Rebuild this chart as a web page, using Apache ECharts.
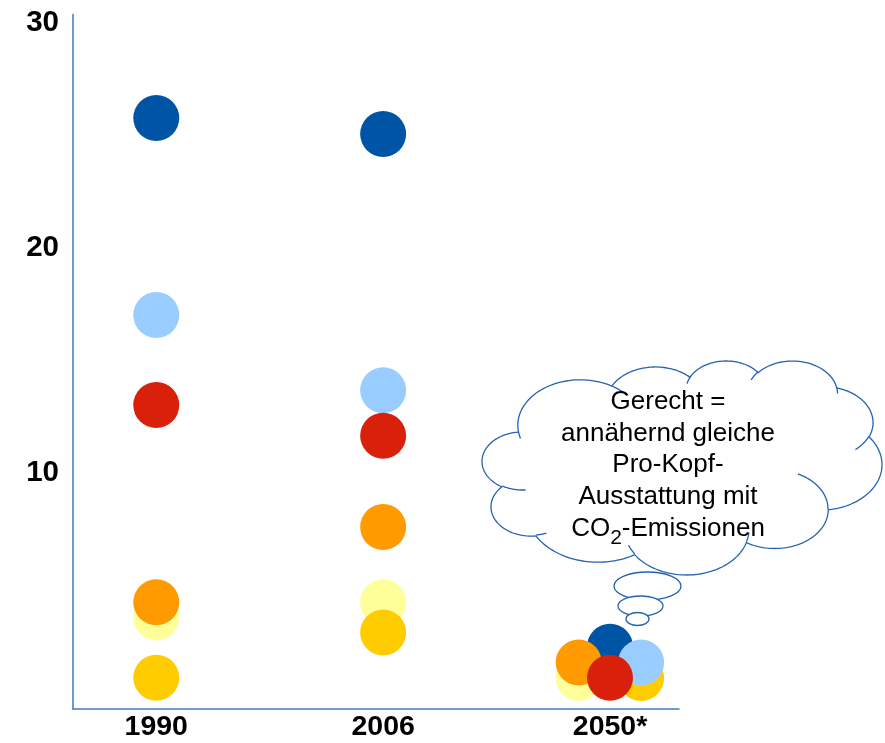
<!DOCTYPE html>
<html>
<head>
<meta charset="utf-8">
<script src="https://cdn.jsdelivr.net/npm/echarts@6/dist/echarts.min.js"></script>
<style>
  html, body { margin: 0; padding: 0; background: #ffffff; }
  #chart { width: 885px; height: 743px; }
</style>
</head>
<body>
<div id="chart"></div>
<script>
// Category labels on the x axis (x = 1, 2, 3) and y tick labels
const years = ['1990', '2006', '2050*'];
const yTicks = [10, 20, 30];

// Per-capita emissions, one array per group (x position, value)
const darkBlueX   = [1, 2, 3];
const darkBlueY   = [25.75, 25.04, 2.27];
const paleYellowX = [1, 2, 2.862];
const paleYellowY = [3.57, 4.24, 0.88];
const goldX       = [1, 2, 3.137];
const goldY       = [0.89, 2.9, 0.88];
const orangeX     = [1, 2, 2.862];
const orangeY     = [4.24, 7.58, 1.57];
const lightBlueX  = [1, 2, 3.137];
const lightBlueY  = [17.0, 13.66, 1.57];
const redX        = [1, 2, 3];
const redY        = [13.0, 11.64, 0.89];

const calloutLines = ['Gerecht =', 'annähernd gleiche', 'Pro-Kopf-', 'Ausstattung mit'];
const calloutLast = ['CO', '2', '-Emissionen'];

const FONT = '"Liberation Sans", Arial, sans-serif';
const AXIS_BLUE = '#3F79C0';
const CLOUD_BLUE = '#2462B2';

function pairs(xs, ys) { return xs.map((x, i) => [x, ys[i]]); }

function dots(name, color, xs, ys) {
  return {
    name: name,
    type: 'scatter',
    symbol: 'circle',
    symbolSize: 46,
    itemStyle: { color: color, opacity: 1 },
    emphasis: { disabled: true },
    data: pairs(xs, ys)
  };
}

// Cloud outline (DrawingML "cloud" preset geometry, 43200 x 43200 path space)
const cloudStart = [3900, 14370];
const cloudArcs = [
  [6753, 9190, -11429249, 7426832],
  [5333, 7267, -8646143, 5396714],
  [4365, 5945, -8748475, 5983381],
  [4857, 6595, -7859164, 7034504],
  [5333, 7273, -4722533, 6541615],
  [6775, 9220, -2776035, 7816140],
  [5785, 7867, 37501, 6842000],
  [6752, 9215, 1347096, 6910353],
  [7720, 10543, 3974558, 4542661],
  [4360, 5918, -16496525, 8804134],
  [4345, 5945, -14809710, 9151131]
];
const cloudInner = [
  [4693, 26177, 4345, 5945, 5204520, 1585770],
  [6928, 34899, 4360, 5918, 4416628, 686848],
  [16478, 39090, 6752, 9215, 8257449, 844866],
  [28827, 34751, 6752, 9215, 387196, 959901],
  [34129, 22954, 5785, 7867, -4217541, 4255042],
  [41798, 15354, 5333, 7273, 1819082, 1665090],
  [38324, 5426, 4857, 6595, -824660, 891534],
  [29078, 3952, 4857, 6595, -8950887, 1091722],
  [22141, 4720, 4365, 5945, -9809656, 1061181],
  [14000, 5192, 6753, 9190, -4002417, 739161],
  [4127, 15789, 6753, 9190, 9459261, 711490]
];

function arcTo(p, wR, hR, st, sw, out) {
  const rad = a => a / 60000 * Math.PI / 180;
  const param = a => Math.atan2(wR * Math.sin(a), hR * Math.cos(a));
  const t1 = param(rad(st));
  const cx = p[0] - wR * Math.cos(t1);
  const cy = p[1] - hR * Math.sin(t1);
  const n = 60;
  for (let i = 1; i <= n; i++) {
    const t = param(rad(st + sw * i / n));
    out.push([cx + wR * Math.cos(t), cy + hR * Math.sin(t)]);
  }
  return out[out.length - 1];
}

function buildCloud(box) {
  const outer = [cloudStart.slice()];
  let p = cloudStart;
  cloudArcs.forEach(a => { p = arcTo(p, a[0], a[1], a[2], a[3], outer); });
  const inner = cloudInner.map(d => {
    const pts = [[d[0], d[1]]];
    arcTo([d[0], d[1]], d[2], d[3], d[4], d[5], pts);
    return pts;
  });
  let minX = Infinity, maxX = -Infinity, minY = Infinity, maxY = -Infinity;
  outer.forEach(q => {
    minX = Math.min(minX, q[0]); maxX = Math.max(maxX, q[0]);
    minY = Math.min(minY, q[1]); maxY = Math.max(maxY, q[1]);
  });
  const sx = (box.x1 - box.x0) / (maxX - minX);
  const sy = (box.y1 - box.y0) / (maxY - minY);
  const map = q => [box.x0 + (q[0] - minX) * sx, box.y0 + (q[1] - minY) * sy];
  return { outer: outer.map(map), inner: inner.map(a => a.map(map)) };
}

// text width helper for laying out the line with the subscript
const measureCtx = document.createElement('canvas').getContext('2d');
function textWidth(str, size) {
  measureCtx.font = size + 'px ' + FONT;
  return measureCtx.measureText(str).width;
}

const cloud = buildCloud({ x0: 482, x1: 882, y0: 361, y1: 575 });
const cloudStyle = { stroke: CLOUD_BLUE, lineWidth: 1.3 };

const graphics = [
  { type: 'polygon', z: 10, shape: { points: cloud.outer }, style: Object.assign({ fill: '#ffffff' }, cloudStyle) }
];
cloud.inner.forEach(pts => {
  graphics.push({ type: 'polyline', z: 11, shape: { points: pts }, style: Object.assign({ fill: null }, cloudStyle) });
});
// thought bubbles leading down to the 2050 group
[[647.5, 586, 33.5, 14], [640.5, 606, 22.5, 10], [637.5, 619, 11.5, 6.5]].forEach((e, i) => {
  graphics.push({
    type: 'ellipse', z: 12 + i,
    shape: { cx: e[0], cy: e[1], rx: e[2], ry: e[3] },
    style: Object.assign({ fill: '#ffffff' }, cloudStyle)
  });
});

// callout text: four plain lines, then "CO₂-Emissionen" with a lowered 2
const TEXT_CX = 668, TEXT_TOP = 386, LINE_H = 31.7, MAIN_SIZE = 26, SUB_SIZE = 21;
graphics.push({
  type: 'text', z: 20,
  x: TEXT_CX, y: TEXT_TOP,
  style: {
    text: calloutLines.join('\n'),
    align: 'center', verticalAlign: 'top',
    font: MAIN_SIZE + 'px ' + FONT,
    lineHeight: LINE_H,
    fill: '#000000'
  }
});
const lastMid = TEXT_TOP + calloutLines.length * LINE_H + LINE_H / 2;
const partSizes = [MAIN_SIZE, SUB_SIZE, MAIN_SIZE];
const partWidths = calloutLast.map((s, i) => textWidth(s, partSizes[i]));
let cursor = TEXT_CX - partWidths.reduce((a, b) => a + b, 0) / 2;
calloutLast.forEach((s, i) => {
  graphics.push({
    type: 'text', z: 20,
    x: cursor, y: lastMid + (i === 1 ? 10 : 0),
    style: {
      text: s, align: 'left', verticalAlign: 'middle',
      font: partSizes[i] + 'px ' + FONT,
      fill: '#000000'
    }
  });
  cursor += partWidths[i];
});

const chart = echarts.init(document.getElementById('chart'), null, { renderer: 'canvas' });
chart.setOption({
  animation: false,
  backgroundColor: '#ffffff',
  grid: { left: 73, right: 206, top: 14.5, bottom: 34 },
  xAxis: {
    type: 'value',
    min: 0.633,
    max: 3.304,
    splitLine: { show: false },
    axisLine: { show: true, onZero: false, lineStyle: { color: AXIS_BLUE, width: 1.5 } },
    axisTick: { show: false },
    axisLabel: {
      customValues: [1, 2, 3],
      formatter: v => years[Math.round(v) - 1],
      fontFamily: FONT, fontSize: 28.5, fontWeight: 'bold', color: '#000000', margin: 4
    }
  },
  yAxis: {
    type: 'value',
    min: -0.5,
    max: 30.35,
    splitLine: { show: false },
    axisLine: { show: true, onZero: false, lineStyle: { color: AXIS_BLUE, width: 1.5 } },
    axisTick: { show: false },
    axisLabel: {
      customValues: yTicks,
      fontFamily: FONT, fontSize: 29.5, fontWeight: 'bold', color: '#000000', margin: 14
    }
  },
  series: [
    dots('Gruppe A', '#0054A6', darkBlueX, darkBlueY),
    dots('Gruppe B', '#FFFF99', paleYellowX, paleYellowY),
    dots('Gruppe C', '#FFCC00', goldX, goldY),
    dots('Gruppe D', '#FF9A00', orangeX, orangeY),
    dots('Gruppe E', '#99CCFF', lightBlueX, lightBlueY),
    dots('Gruppe F', '#D8200A', redX, redY)
  ],
  graphic: graphics
});
</script>
</body>
</html>
